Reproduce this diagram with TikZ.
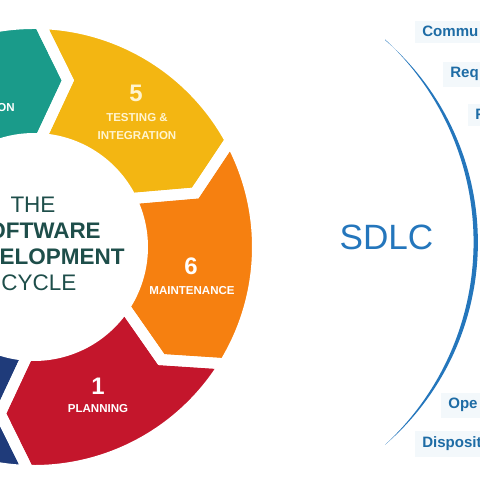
\documentclass[tikz,border=0pt]{standalone}
\usepackage{fontspec}
\setmainfont{Liberation Sans}
\usetikzlibrary{positioning}

\definecolor{tealseg}{RGB}{26,155,138}
\definecolor{yellowseg}{RGB}{243,182,18}
\definecolor{orangeseg}{RGB}{246,128,16}
\definecolor{redseg}{RGB}{196,22,44}
\definecolor{navyseg}{RGB}{31,59,122}
\definecolor{titlegreen}{RGB}{30,78,74}
\definecolor{sdlcblue}{RGB}{36,118,188}
\definecolor{phaseblue}{RGB}{30,108,165}
\definecolor{phasebg}{RGB}{243,248,251}
\definecolor{cream}{RGB}{255,244,208}

\newcommand{\Rout}{223.5}
\newcommand{\Rin}{108.5}
\newcommand{\Rmid}{170}
% one arrow shaped piece of the ring, from clock angle #1 to #2
\newcommand{\ringseg}[2]{(90-#1:\Rout) arc[start angle=90-#1, end angle=90-#2, radius=\Rout]
  -- (80-#2:\Rmid) -- (88-#2:\Rin) arc[start angle=88-#2, end angle=88-#1, radius=\Rin]
  -- (80-#1:\Rmid) -- cycle}

\begin{document}
\begin{tikzpicture}[x=0.025cm, y=0.025cm,
    segnum/.style={text=white, font=\bfseries\fontsize{17}{17}\selectfont, anchor=base, inner sep=0},
    seglabel/.style={text=white, font=\bfseries\fontsize{8.2}{8.2}\selectfont, anchor=base, inner sep=0},
    titleline/.style={text=titlegreen, font=\fontsize{16}{16}\selectfont, anchor=base, inner sep=0},
    phase/.style={text=phaseblue, fill=phasebg, font=\bfseries\fontsize{10.7}{10.7}\selectfont, anchor=base west, inner xsep=5pt, inner ysep=4pt}]

    \useasboundingbox (0,0) rectangle (480,480);
    \clip (0,0) rectangle (480,480);

    % the cycle
    \begin{scope}[shift={(34,233)}]
        \foreach \b/\col in {301.5/tealseg, 1.5/yellowseg, 61.5/orangeseg, 121.5/redseg, 181.5/navyseg}{
            \pgfmathsetmacro{\e}{\b+60}
            \fill[\col] \ringseg{\b}{\e};
        }
        \foreach \b in {301.5, 1.5, 61.5, 121.5, 181.5}{
            \pgfmathsetmacro{\e}{\b+60}
            \draw[white, line width=7.8pt] \ringseg{\b}{\e};
        }
    \end{scope}

    \node[seglabel, anchor=base east] (implement) at (15,368) {ON};

    \node[segnum, text=cream] (num5) at (136,378) {5};
    \node[seglabel, text=cream] (testing) at (137,358) {TESTING \&};
    \node[seglabel, text=cream] (integration) at (137,340) {INTEGRATION};

    \node[segnum] (num6) at (191,205) {6};
    \node[seglabel] (maintenance) at (192,185) {MAINTENANCE};

    \node[segnum] (num1) at (98,85) {1};
    \node[seglabel] (planning) at (98,67) {PLANNING};

    \node[titleline] (the) at (33,267) {THE};
    \node[titleline, font=\bfseries\fontsize{16}{16}\selectfont] (software) at (37,241) {SOFTWARE};
    \node[titleline, font=\bfseries\fontsize{16}{16}\selectfont] (development) at (39,215) {DEVELOPMENT};
    \node[titleline] (cycle) at (39,189) {CYCLE};

    % right half
    \node[text=sdlcblue, font=\fontsize{25}{25}\selectfont, anchor=base, inner sep=0] (sdlc) at (386.5,230) {SDLC};

    \fill[sdlcblue] (385,440) arc[start angle=49.3, end angle=-49.3, radius=267]
        arc[start angle=-47.2, end angle=47.2, radius=276.3] -- cycle;

    \node[phase] (commun) at (415,443) {Commu};
    \node[phase] (req) at (443,402) {Req};
    \node[phase] (feas) at (468,360) {F};
    \node[phase] (oper) at (441,71) {Ope};
    \node[phase] (dispos) at (415,32) {Disposit};
\end{tikzpicture}
\end{document}
